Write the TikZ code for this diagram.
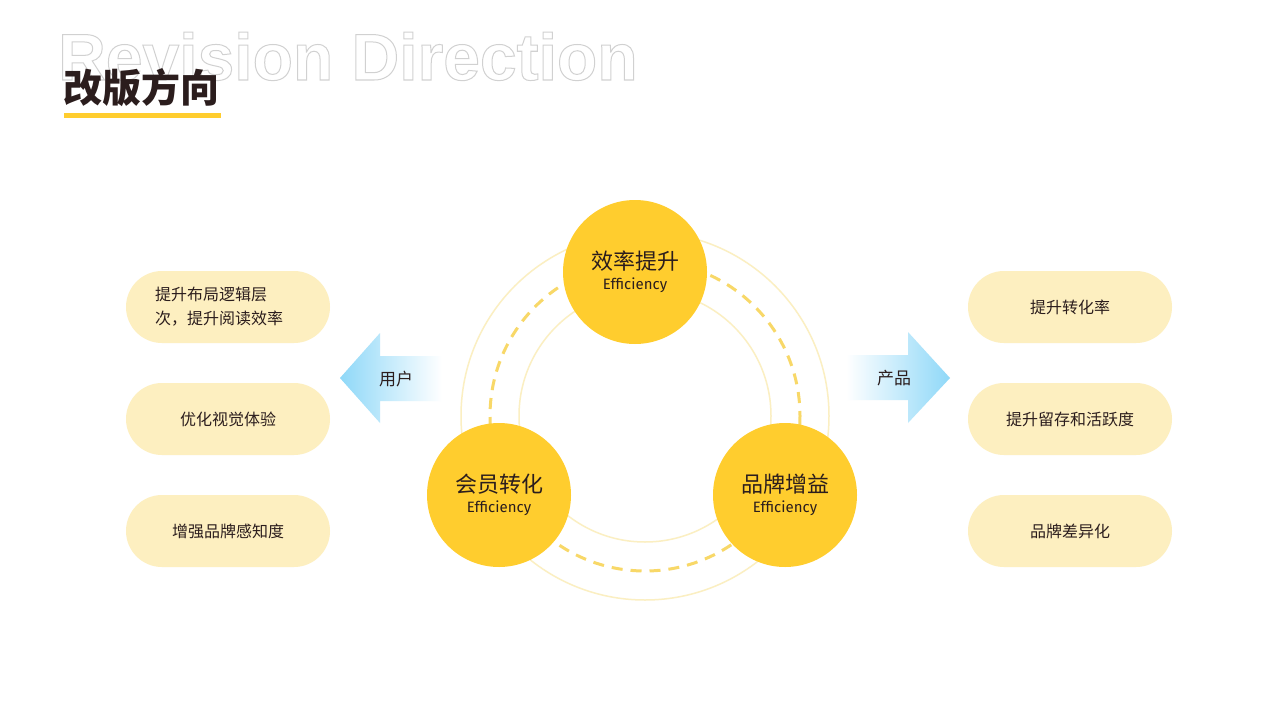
\documentclass[tikz,border=0pt]{standalone}
\usepackage{fontspec}
\setmainfont{Noto Sans CJK SC}
\newfontfamily\cjk{Noto Sans CJK SC}
\newfontfamily\latin{Fira Sans}
\newfontfamily\heros{Liberation Sans}
\definecolor{ylw}{HTML}{FFCD2E}
\definecolor{pill}{HTML}{FDEFC0}
\definecolor{ring}{HTML}{FBEFC2}
\definecolor{dashcol}{HTML}{F8D868}
\definecolor{ink}{HTML}{2B1D1D}
\definecolor{sky}{HTML}{8FD8F8}
\tikzset{
 hub/.style={circle,fill=ylw,minimum size=144pt,inner sep=0pt,align=center,text=ink},
 pillbox/.style={rectangle,rounded corners=36pt,fill=pill,minimum width=204pt,minimum height=72pt,align=center,text=ink,font=\cjk\fontsize{16}{24}\selectfont},
 lbl/.style={text=ink,font=\cjk\fontsize{17}{20}\selectfont}
}
\newcommand{\hubtext}[1]{{\cjk\fontsize{22}{24}\selectfont #1}\\[6pt]{\latin\fontsize{15}{18}\selectfont Efficiency}}
\begin{document}
\begin{tikzpicture}[x=1pt,y=-1pt]
\useasboundingbox (0,0) rectangle (1280,720);
\fill[white] (0,0) rectangle (1280,720);
% title
\node[anchor=base west,inner sep=0pt,text=black!18] (bg) at (58,80) {\heros\bfseries\fontsize{66}{68}\selectfont\special{pdf:literal direct 1 Tr 1 w}Revision Direction\special{pdf:literal direct 0 Tr}};
\node[anchor=base west,inner sep=0pt,text=ink] (tt) at (63,102) {\cjk\bfseries\fontsize{39}{40}\selectfont 改版方向};
\fill[ylw] (64,113) rectangle (221,118);
% rings
\coordinate (c) at (645,416);
\draw[ring,line width=1.5pt] (c) circle (184);
\draw[ring,line width=1.5pt] (c) circle (126);
\draw[dashcol,line width=3pt,dash pattern=on 11pt off 8pt] (c) circle (155);
% hubs
\node[hub] (top) at (635,272) {\hubtext{效率提升}};
\node[hub] (left) at (499,495) {\hubtext{会员转化}};
\node[hub] (right) at (785,495) {\hubtext{品牌增益}};
% arrows
\shade[left color=sky,right color=white] (340,378) -- (380,333) -- (380,356) -- (442,356) -- (442,401) -- (380,401) -- (380,423) -- cycle;
\shade[right color=sky,left color=white] (950,378) -- (908,332) -- (908,355) -- (846,355) -- (846,400) -- (908,400) -- (908,423) -- cycle;
\node[lbl] (u) at (396,379) {用户};
\node[lbl] (p) at (894,378) {产品};
% pills
\node[pillbox,align=left] (l1) at (228,307) {\parbox{146pt}{提升布局逻辑层\\次，提升阅读效率}};
\node[pillbox] (l2) at (228,419) {优化视觉体验};
\node[pillbox] (l3) at (228,531) {增强品牌感知度};
\node[pillbox] (r1) at (1070,307) {提升转化率};
\node[pillbox] (r2) at (1070,419) {提升留存和活跃度};
\node[pillbox] (r3) at (1070,531) {品牌差异化};
\end{tikzpicture}
\end{document}
